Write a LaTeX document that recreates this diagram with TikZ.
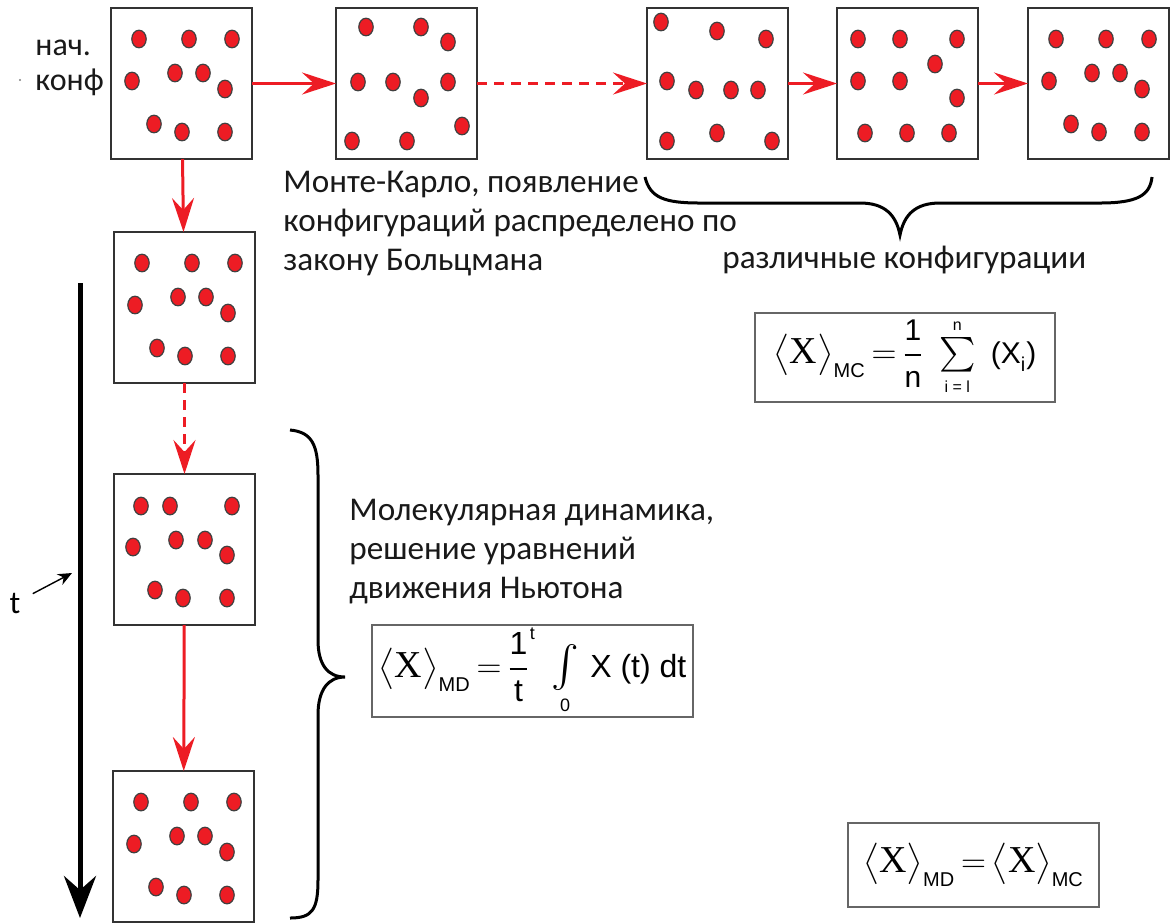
\documentclass[tikz,border=0pt]{standalone}
\usepackage{amsmath}
\usepackage{fontspec}
\setmainfont{Carlito}
\newfontfamily\serifx{Liberation Serif}
\newfontfamily\sansx{Liberation Sans}
\usepackage{xcolor}
\usetikzlibrary{arrows.meta}
\definecolor{dotred}{HTML}{ED1C24}

\newcommand\fsz[1]{\fontsize{#1}{#1}\selectfont}
\newcommand\avg[1]{\bigl\langle\text{\serifx\fsz{19}X}\bigr\rangle_{\text{\sansx\fsz{10}#1}}}
\newcommand\sx[2]{\text{\sansx\fsz{#1}#2}}
% box with particles, dots given relative to its top left corner
\newcommand\konf[4]{%
  \node [konf, anchor=north west] (#1) at (#2,#3) {};
  \foreach \dx/\dy in #4
    \draw [dot] ([shift={(\dx,\dy)}]#1.north west) ellipse [x radius=3.6pt, y radius=4.4pt];
}
\def\pA{28/31,78/31,121/31,21/73,64/65,92/65,114/81,43/116,71/124,114/124}
\def\pB{30/19,85/19,112/34,22/74,57/74,85/90,112/74,126/118,16/133,71/133}
\def\pC{14/14,70/23,119/31,20/73,49/82,84/82,111/82,20/133,70/125,125/133}
\def\pD{21/31,63/31,120/31,98/56,21/73,63/73,120/90,28/125,70/125,112/125}
\def\pE{27/32,56/32,118/32,19/73,62/66,91/66,113/81,41/116,69/124,113/124}

\begin{document}
\begin{tikzpicture}[x=0.5pt, y=-0.5pt,
    konf/.style={draw=black!80, line width=1pt, minimum width=70.5pt, minimum height=75.5pt, inner sep=0pt, outer sep=0pt},
    dot/.style={fill=dotred, draw=black!75, line width=0.6pt},
    rarr/.style={draw=dotred, line width=1.5pt, -{Stealth[length=17pt, width=11pt, inset=6pt]}},
    rdash/.style={rarr, dash pattern=on 5pt off 3.5pt},
    txt/.style={font=\fontsize{16.6}{19.5}\selectfont, align=left, inner sep=0pt, text=black!90},
    fbox/.style={draw=black!60, line width=1pt, inner sep=0pt}]
  \useasboundingbox (0,0) rectangle (1170,923);

  \konf{c1}{111}{8}{\pA}
  \konf{c2}{336}{8}{\pB}
  \konf{c3}{647}{8}{\pC}
  \konf{c4}{837}{8}{\pD}
  \konf{c5}{1028}{8}{\pA}
  \konf{d1}{114}{232}{\pA}
  \konf{d2}{114}{474}{\pE}
  \konf{d3}{113}{771}{\pA}

  \draw [rarr] (c1) -- (c2);
  \draw [rdash] (c2) -- (c3);
  \draw [rarr] (c3) -- (c4);
  \draw [rarr] (c4) -- (c5);
  \draw [rarr] (c1) -- (d1);
  \draw [rdash] (d1) -- (d2);
  \draw [rarr] (d2) -- (d3);

  \node [txt, font=\fontsize{16}{17.5}\selectfont, anchor=base west] (start) at (35,90) {нач.\\конф};
  \fill [black!50] (20,80) circle (0.6pt);
  \node [txt, anchor=base west] (mctext) at (283,270) {Монте-Карло, появление\\конфигураций распределено по\\закону Больцмана};
  \node [txt, anchor=base west] (variety) at (722,268) {различные конфигурации};
  \node [txt, anchor=base west] (mdtext) at (349,598) {Молекулярная динамика,\\решение уравнений\\движения Ньютона};

  % braces
  \draw [line width=1.5pt] (645,177) .. controls (650,198) and (665,203) .. (700,203) -- (860,203)
    .. controls (885,203) and (896,215) .. (900,235) .. controls (904,215) and (915,203) .. (940,203)
    -- (1100,203) .. controls (1138,203) and (1150,195) .. (1152,177);
  \draw [line width=1.5pt] (290,430) .. controls (312,432) and (318,445) .. (318,475) -- (318,640)
    .. controls (318,665) and (328,677) .. (345,677) .. controls (328,677) and (318,690) .. (318,715)
    -- (318,880) .. controls (318,910) and (312,918) .. (290,918);

  % time axis
  \coordinate (t0) at (80,283);
  \coordinate (t1) at (80,918);
  \draw [line width=2.5pt, -{Stealth[length=21pt, width=16pt, inset=7pt]}] (t0) -- (t1);
  \node [font=\fontsize{16}{19.5}\selectfont, inner sep=6pt] (tlab) at (15,603) {t};
  \coordinate (tp) at (72,573);
  \draw [line width=0.7pt, -{Stealth[length=7pt, width=6pt]}] (tlab) -- (tp);

  % averages
  \node [fbox, minimum width=150pt, minimum height=44.5pt] (mc) at (905,357.5)
    {\fsz{19}$\avg{MC}\,{=}\,\genfrac{}{}{0.6pt}{0}{\sx{15}{1}}{\sx{15}{n}}\;
      \mathop{\text{\fsz{17}$\sum$}}\limits_{\sx{8}{i = l}}^{\sx{8}{n}}\;
      \sx{15}{(X}_{\sx{10}{i}}\sx{15}{)}$};
  \node [fbox, minimum width=160.5pt, minimum height=46pt] (md) at (532.5,671)
    {\fsz{19}$\avg{MD}\,{=}\,\genfrac{}{}{0.6pt}{0}{\sx{16}{1}}{\sx{16}{t}}{}^{\text{\raisebox{13pt}{\sansx\fsz{9}t}}}\;
      \mathop{\text{\fsz{21}$\int$}}\limits_{\sx{9}{0}}\,\sx{16}{X (t) dt}$};
  \node [fbox, minimum width=125.5pt, minimum height=42pt] (eq) at (973.5,865)
    {\fsz{19}$\avg{MD}\,{=}\,\avg{MC}$};
\end{tikzpicture}
\end{document}
